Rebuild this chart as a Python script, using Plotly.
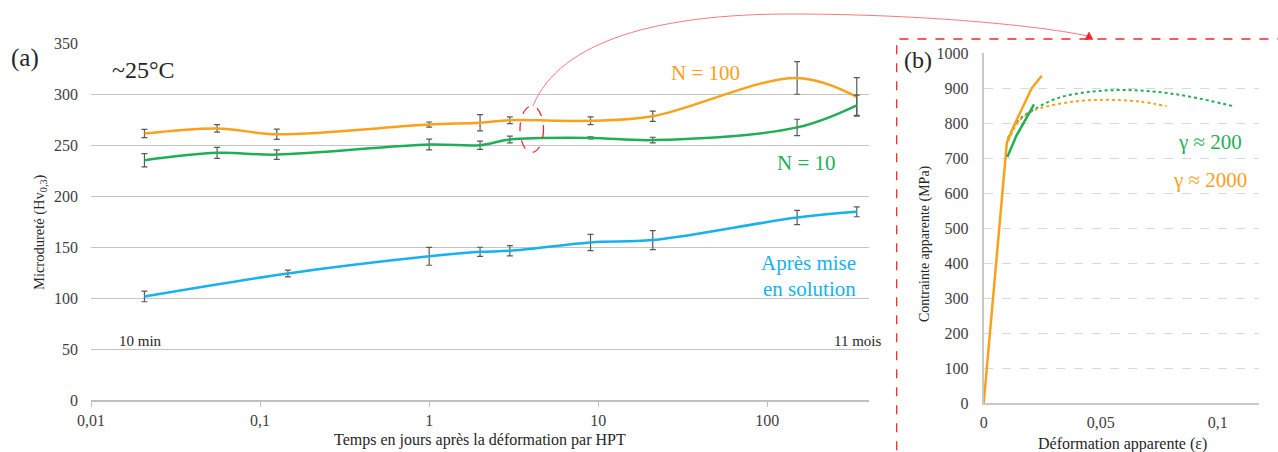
import plotly.graph_objects as go

W, H = 1278, 452

# ---------------- Panel (a) data ----------------
t_n = [0.0207, 0.0557, 0.1255, 1, 2, 3, 9, 21, 150, 338]
hv_n100 = [261.5, 266.5, 260.8, 270.3, 272, 274.5, 274, 278.4, 316, 297.4]
err_n100 = [4, 3.7, 5, 2.5, 8, 3.3, 3.8, 5, 16, 19]
hv_n10 = [235.3, 242.5, 240.8, 250.7, 250, 255.6, 257.2, 255, 267.5, 289.2]
err_n10 = [6.5, 5.4, 4.7, 5.2, 4, 3.3, 1, 2.8, 8, 10]
t_sol = [0.0207, 0.146, 1, 2, 3, 9, 21, 150, 338]
hv_sol = [101.6, 124.2, 141, 145.4, 146.4, 154.6, 156.9, 179, 184.6]
err_sol = [5.2, 3.3, 8.8, 4.5, 5, 8, 9.3, 7, 4.8]
xtick_vals = [0.01, 0.1, 1, 10, 100]
xtick_text = ["0,01", "0,1", "1", "10", "100"]

# ---------------- Panel (b) data ----------------
eps_o = [0, 0.0099, 0.0134, 0.0170, 0.0205, 0.0248]
sig_o = [0, 745, 800, 852, 900, 936]
eps_g = [0.0101, 0.0140, 0.0180, 0.0215]
sig_g = [704, 765, 812, 854]
eps_gd = [0.0103, 0.0150, 0.0212, 0.0312, 0.0454, 0.0597, 0.0740, 0.0882, 0.1067]
sig_gd = [757, 810, 838, 871, 890, 895, 890, 876, 849]
eps_od = [0.0105, 0.0150, 0.0200, 0.0240, 0.0383, 0.0526, 0.0668, 0.0782]
sig_od = [750, 805, 832, 843, 862, 867, 862, 849]
x2tick_vals = [0, 0.05, 0.1]
x2tick_text = ["0", "0,05", "0,1"]

ORANGE = "#F9A11B"
GREEN = "#1FAF57"
BLUE = "#17B1F0"
ERR = "#595959"
FONT = "Liberation Serif"


def px(x):
    return x / W


def py(y):
    return 1 - y / H


fig = go.Figure()

def err(vals):
    return dict(type="data", array=vals, color=ERR, thickness=1.2, width=3)

fig.add_trace(go.Scatter(x=t_n, y=hv_n100, mode="lines", line=dict(color=ORANGE, width=2.5, shape="spline"),
                         error_y=err(err_n100), xaxis="x", yaxis="y"))
fig.add_trace(go.Scatter(x=t_n, y=hv_n10, mode="lines", line=dict(color=GREEN, width=2.5, shape="spline"),
                         error_y=err(err_n10), xaxis="x", yaxis="y"))
fig.add_trace(go.Scatter(x=t_sol, y=hv_sol, mode="lines", line=dict(color=BLUE, width=2.5, shape="spline"),
                         error_y=err(err_sol), xaxis="x", yaxis="y"))

fig.add_trace(go.Scatter(x=eps_gd, y=sig_gd, mode="lines", line=dict(color=GREEN, width=2, dash="dot", shape="spline"),
                         xaxis="x2", yaxis="y2"))
fig.add_trace(go.Scatter(x=eps_od, y=sig_od, mode="lines", line=dict(color=ORANGE, width=2, dash="dot", shape="spline"),
                         xaxis="x2", yaxis="y2"))
fig.add_trace(go.Scatter(x=eps_o, y=sig_o, mode="lines", line=dict(color=ORANGE, width=2.5),
                         xaxis="x2", yaxis="y2"))
fig.add_trace(go.Scatter(x=eps_g, y=sig_g, mode="lines", line=dict(color=GREEN, width=2.5),
                         xaxis="x2", yaxis="y2"))

tickfont = dict(family=FONT, size=16, color="#404040")

fig.update_layout(
    width=W, height=H, margin=dict(l=0, r=0, t=0, b=0, autoexpand=False),
    paper_bgcolor="white", plot_bgcolor="white", showlegend=False,
    font=dict(family=FONT, color="#262626"),
    xaxis=dict(type="log", range=[-2, 2.603], domain=[px(91), px(869.3)], anchor="y",
               tickvals=xtick_vals, ticktext=xtick_text, ticks="outside", ticklen=5,
               tickcolor="#BFBFBF", showgrid=False, showline=True, linecolor="#BFBFBF",
               linewidth=1.5, tickfont=tickfont, zeroline=False, automargin=False),
    yaxis=dict(range=[0, 350], domain=[py(400), py(43.3)], anchor="x", dtick=50,
               showgrid=True, gridcolor="#C4C4C4", gridwidth=1.3, zeroline=False,
               showline=False, tickfont=tickfont, ticklabelstandoff=12, automargin=False),
    xaxis2=dict(range=[0, 0.1178], domain=[px(983.7), px(1259.3)], anchor="y2",
                tickvals=x2tick_vals, ticktext=x2tick_text, ticks="", showgrid=False,
                showline=True, linecolor="#C8C8C8", linewidth=1.5, zeroline=False,
                tickfont=tickfont, ticklabelstandoff=4, automargin=False),
    yaxis2=dict(range=[0, 1000], domain=[py(403.3), py(53.3)], anchor="x2", dtick=100,
                showgrid=True, gridcolor="#D9D9D9", griddash="dash", gridwidth=1.2,
                showline=True, linecolor="#C8C8C8", linewidth=2, zeroline=False,
                tickfont=tickfont, ticklabelstandoff=10, automargin=False),
)

def ann(text, x, y, size, color="#262626", xanchor="center", yanchor="middle", angle=0):
    fig.add_annotation(text=text, x=px(x), y=py(y), xref="paper", yref="paper",
                       showarrow=False, xanchor=xanchor, yanchor=yanchor, textangle=angle,
                       font=dict(family=FONT, size=size, color=color))

ann("(a)", 25, 58, 25)
ann("~25°C", 143, 70, 24)
ann("N = 100", 705, 73, 21, ORANGE)
ann("N = 10", 806, 163, 21, GREEN)
ann("Après mise", 858, 263, 21, BLUE, xanchor="right")
ann("en solution", 858, 289, 21, BLUE, xanchor="right")
ann("10 min", 140, 341, 15)
ann("11 mois", 858, 341, 15, xanchor="center")
ann("Microdureté (Hv<sub>0,3</sub>)", 40, 232, 14.5, angle=-90)
ann("Temps en jours après la déformation par HPT", 480, 440, 16)
ann("(b)", 918, 60, 24)
ann("γ ≈ 200", 1210, 142, 21, GREEN)
ann("γ ≈ 2000", 1210, 180, 21, ORANGE)
ann("Contrainte apparente (MPa)", 925, 244, 14, angle=-90)
ann("Déformation apparente (ε)", 1122, 444, 16)

RED = "#F0282D"
# dashed box of panel (b)
fig.add_shape(type="rect", xref="paper", yref="paper", x0=px(896.7), x1=1.02, y0=-0.02, y1=py(39),
              line=dict(color=RED, width=1.3, dash="dash"))
# dashed ellipse
fig.add_shape(type="circle", xref="paper", yref="paper", x0=px(520), x1=px(543.5), y0=py(152.5), y1=py(106),
              line=dict(color=RED, width=1.3, dash="dash"))
# connecting curve
p0 = (533, 106); c1 = (560, 40); c2 = (660, 14); p1 = (790, 14)
c3 = (910, 14); c4 = (1030, 24); p2 = (1088, 36)
path = "M {:.5f},{:.5f} C {:.5f},{:.5f} {:.5f},{:.5f} {:.5f},{:.5f} C {:.5f},{:.5f} {:.5f},{:.5f} {:.5f},{:.5f}".format(
    px(p0[0]), py(p0[1]), px(c1[0]), py(c1[1]), px(c2[0]), py(c2[1]), px(p1[0]), py(p1[1]),
    px(c3[0]), py(c3[1]), px(c4[0]), py(c4[1]), px(p2[0]), py(p2[1]))
fig.add_shape(type="path", xref="paper", yref="paper", path=path, line=dict(color="#F47A7F", width=1))
tri = "M {:.5f},{:.5f} L {:.5f},{:.5f} L {:.5f},{:.5f} Z".format(
    px(1085), py(39.5), px(1093), py(39.5), px(1089), py(32))
fig.add_shape(type="path", xref="paper", yref="paper", path=tri, fillcolor=RED, line=dict(color=RED, width=0.5))

fig.write_html("out.html", config={"displayModeBar": False},
               post_script="document.body.style.margin='0';document.body.style.padding='0';"
                           "document.body.style.overflow='hidden';")
